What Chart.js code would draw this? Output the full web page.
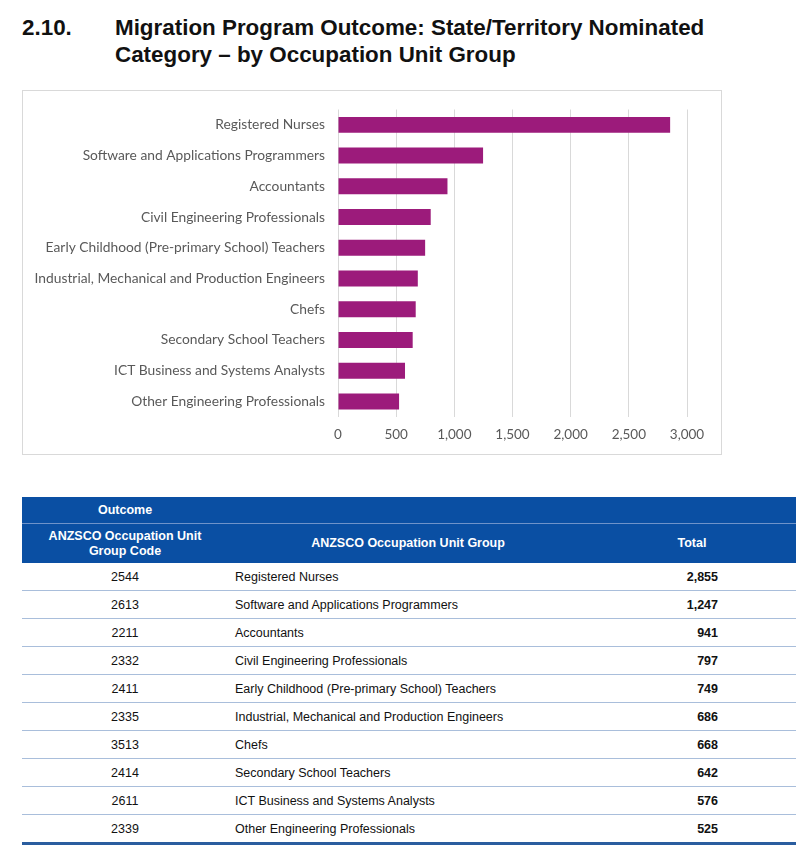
<!DOCTYPE html>
<html lang="en">
<head>
<meta charset="UTF-8">
<title>Migration Program Outcome: State/Territory Nominated</title>
<script src="https://cdn.jsdelivr.net/npm/chart.js"></script>
<style>
    body { margin: 0; background: #ffffff; font-family: "Liberation Sans", Arial, sans-serif; }
    #page { position: relative; width: 800px; height: 850px; }
    h1 { position: absolute; left: 22px; top: 14px; margin: 0; font-size: 22.4px; font-weight: bold; color: #111; line-height: 27px; }
    h1 .num { position: absolute; left: 0; top: 0; }
    h1 .txt { position: absolute; left: 93px; top: 0; width: 660px; }
    #chartBox { position: absolute; left: 22px; top: 90px; width: 698px; height: 363px; border: 1px solid #d9d9d9; }
    table { position: absolute; left: 22px; top: 497px; width: 774px; border-collapse: collapse; font-size: 12.5px; color: #111; table-layout: fixed; }
    th { background: #0a4fa3; color: #fff; font-weight: bold; font-size: 12.5px; padding: 0; }
    tr.h1 th { height: 26px; border-bottom: 1px solid #6f93c9; }
    tr.h2 th { height: 39px; line-height: 15px; }
    td { height: 27px; padding: 0; border-bottom: 1px solid #a9bedb; }
    td.code { text-align: center; }
    td.total { text-align: right; font-weight: bold; padding-right: 78px; }
    tr.last td { border-bottom: 3px solid #2a5d9f; }
</style>
</head>
<body>
<div id="page">
    <h1><span class="num">2.10.</span><span class="txt">Migration Program Outcome: State/Territory Nominated Category – by Occupation Unit Group</span></h1>
    <div id="chartBox"><canvas id="occChart"></canvas></div>
    <table id="occTable">
        <colgroup><col style="width:206px"><col style="width:360px"><col style="width:208px"></colgroup>
        <tr class="h1"><th>Outcome</th><th></th><th></th></tr>
        <tr class="h2"><th>ANZSCO Occupation Unit<br>Group Code</th><th>ANZSCO Occupation Unit Group</th><th>Total</th></tr>
    </table>
</div>
<script>
    // data
    var codes = ["2544", "2613", "2211", "2332", "2411", "2335", "3513", "2414", "2611", "2339"];
    var occupations = [
        "Registered Nurses",
        "Software and Applications Programmers",
        "Accountants",
        "Civil Engineering Professionals",
        "Early Childhood (Pre-primary School) Teachers",
        "Industrial, Mechanical and Production Engineers",
        "Chefs",
        "Secondary School Teachers",
        "ICT Business and Systems Analysts",
        "Other Engineering Professionals"
    ];
    var totals = [2855, 1247, 941, 797, 749, 686, 668, 642, 576, 525];
    var xTicks = [0, 500, 1000, 1500, 2000, 2500, 3000];

    // build table rows
    var table = document.getElementById("occTable");
    for (var i = 0; i < codes.length; i++) {
        var tr = document.createElement("tr");
        if (i == codes.length - 1) tr.className = "last";
        tr.innerHTML = '<td class="code">' + codes[i] + '</td><td style="padding-left:7px">' + occupations[i] +
            '</td><td class="total">' + totals[i].toLocaleString("en-US") + '</td>';
        table.appendChild(tr);
    }

    var ctx = document.getElementById("occChart").getContext("2d");
    var occChart = new Chart(ctx, {
        type: "bar",
        data: {
            labels: occupations,
            datasets: [{
                data: totals,
                backgroundColor: "#9c1b7b",
                barPercentage: 0.52,
                categoryPercentage: 1
            }]
        },
        options: {
            indexAxis: "y",
            responsive: true,
            maintainAspectRatio: false,
            animation: false,
            layout: { padding: { top: 18.5, right: 34, bottom: 1, left: 0 } },
            plugins: { legend: { display: false }, tooltip: { enabled: false } },
            scales: {
                x: {
                    min: 0,
                    max: 3000,
                    afterBuildTicks: function (axis) {
                        axis.ticks = xTicks.map(function (v) { return { value: v }; });
                    },
                    grid: { color: "#d9d9d9", drawTicks: false },
                    border: { display: false },
                    ticks: {
                        color: "#595959",
                        padding: 10,
                        font: { family: "Lato", size: 13.5 },
                        callback: function (v) { return v.toLocaleString("en-US"); }
                    }
                },
                y: {
                    afterFit: function (axis) {
                        axis.width = 315;
                        axis.paddingTop = 0;
                        axis.paddingBottom = 0;
                    },
                    grid: { display: false, drawTicks: false },
                    border: { display: false },
                    ticks: {
                        color: "#595959",
                        padding: 13,
                        font: { family: "Lato", size: 13.8 }
                    }
                }
            }
        }
    });
</script>
</body>
</html>
